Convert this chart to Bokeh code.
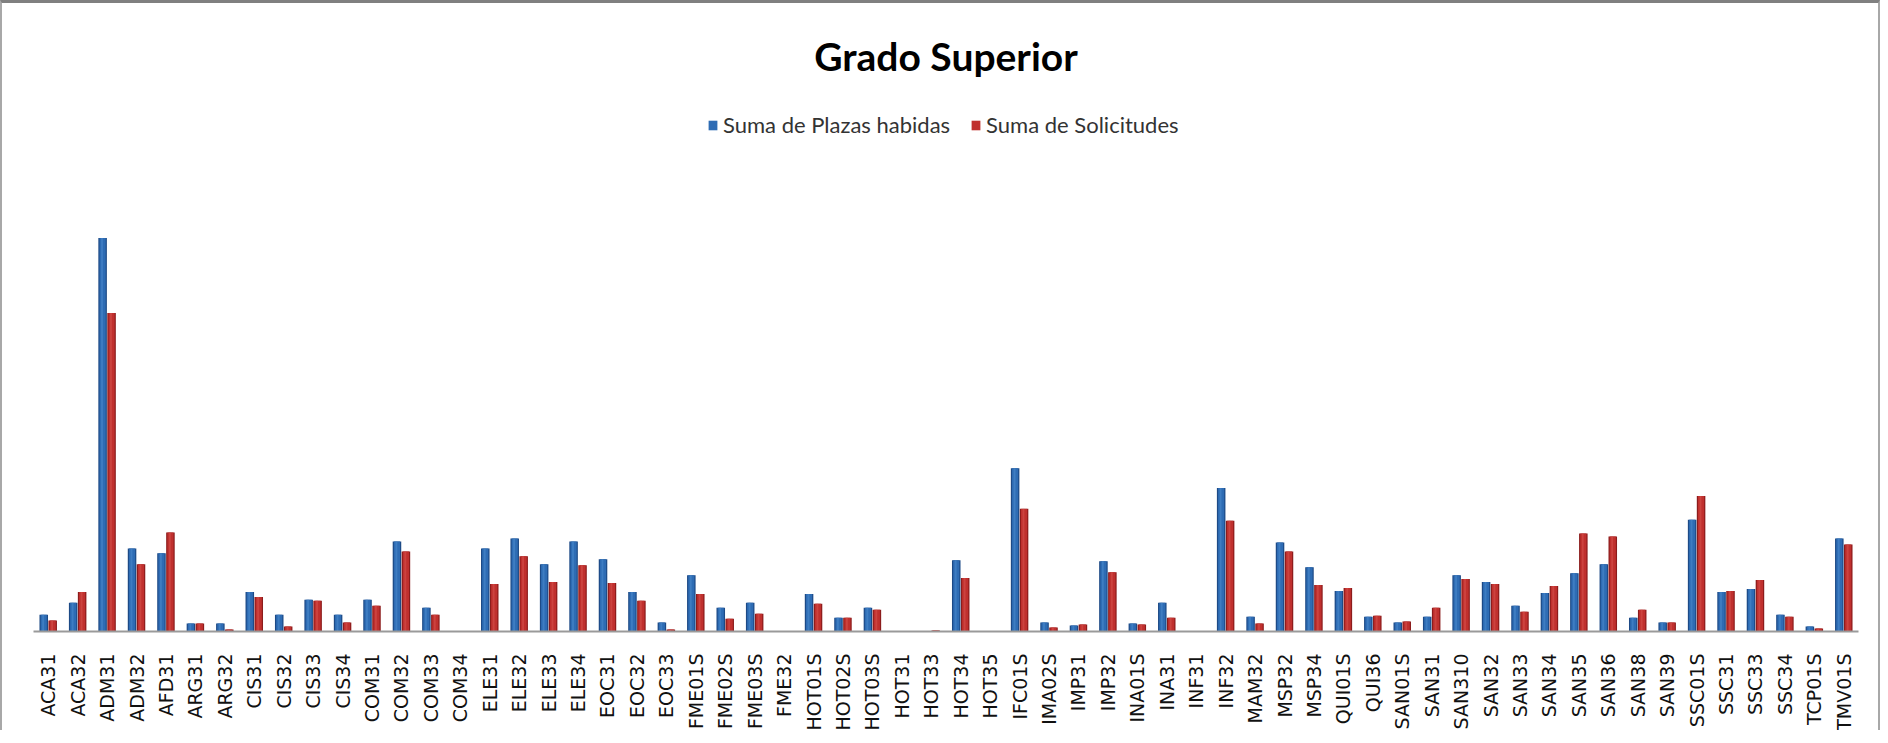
import math
from bokeh.plotting import figure
from bokeh.models import ColumnDataSource, Range1d, Label, Legend, LegendItem, FactorRange
from bokeh.transform import dodge
from bokeh.embed import file_html
from bokeh.resources import INLINE

categories = ["ACA31", "ACA32", "ADM31", "ADM32", "AFD31", "ARG31", "ARG32", "CIS31", "CIS32", "CIS33",
              "CIS34", "COM31", "COM32", "COM33", "COM34", "ELE31", "ELE32", "ELE33", "ELE34", "EOC31",
              "EOC32", "EOC33", "FME01S", "FME02S", "FME03S", "FME32", "HOT01S", "HOT02S", "HOT03S", "HOT31",
              "HOT33", "HOT34", "HOT35", "IFC01S", "IMA02S", "IMP31", "IMP32", "INA01S", "INA31", "INF31",
              "INF32", "MAM32", "MSP32", "MSP34", "QUI01S", "QUI36", "SAN01S", "SAN31", "SAN310", "SAN32",
              "SAN33", "SAN34", "SAN35", "SAN36", "SAN38", "SAN39", "SSC01S", "SSC31", "SSC33", "SSC34",
              "TCP01S", "TMV01S"]

plazas_habidas = [17, 29, 398, 84, 79, 8, 8, 40, 17, 32,
                  17, 32, 91, 24, 0, 84, 94, 68, 91, 73,
                  40, 9, 57, 24, 29, 0, 38, 14, 24, 0,
                  0, 72, 0, 165, 9, 6, 71, 8, 29, 0,
                  145, 15, 90, 65, 41, 15, 9, 15, 57, 50,
                  26, 39, 59, 68, 14, 9, 113, 40, 43, 17,
                  5, 94]

solicitudes = [11, 40, 322, 68, 100, 8, 2, 35, 5, 31,
               9, 26, 81, 17, 0, 48, 76, 50, 67, 49,
               31, 2, 38, 13, 18, 0, 28, 14, 22, 0,
               1, 54, 0, 124, 4, 7, 60, 7, 14, 0,
               112, 8, 81, 47, 44, 16, 10, 24, 53, 48,
               20, 46, 99, 96, 22, 9, 137, 41, 52, 15,
               3, 88]

series_names = ["Suma de Plazas habidas", "Suma de Solicitudes"]
title_text = "Grado Superior"

src = ColumnDataSource(dict(cat=categories, a=plazas_habidas, b=solicitudes))

W, H = 1880, 730
p = figure(x_range=FactorRange(*categories), y_range=Range1d(0, 633),
           width=W, height=H, output_backend="svg", toolbar_location=None,
           title=None, min_border_left=31, min_border_right=24,
           min_border_top=2, min_border_bottom=95,
           outline_line_color=None, background_fill_color="white",
           border_fill_color="white")
p.styles = {"border-top": "3px solid #808080", "border-left": "2px solid #a8a8a8",
            "border-right": "2px solid #a8a8a8"}
p.x_range.range_padding = 0

off = 0.152
bw = 0.29
blue_dark, blue_mid, blue_hi = "#1d4a86", "#2e6cb4", "#4a88cb"
red_dark, red_mid, red_hi = "#8c1c1c", "#c0302e", "#d4504b"

p.vbar(x=dodge("cat", -off, range=p.x_range), top="a", width=bw, source=src,
       fill_color=blue_dark, line_color=None)
rb = p.vbar(x=dodge("cat", -off, range=p.x_range), top="a", width=bw * 0.72, source=src,
            fill_color=blue_mid, line_color=None)
p.vbar(x=dodge("cat", -off - 0.02, range=p.x_range), top="a", width=bw * 0.22, source=src,
       fill_color=blue_hi, line_color=None, fill_alpha=0.6)

p.vbar(x=dodge("cat", off, range=p.x_range), top="b", width=bw, source=src,
       fill_color=red_dark, line_color=None)
rr = p.vbar(x=dodge("cat", off, range=p.x_range), top="b", width=bw * 0.72, source=src,
            fill_color=red_mid, line_color=None)
p.vbar(x=dodge("cat", off - 0.02, range=p.x_range), top="b", width=bw * 0.22, source=src,
       fill_color=red_hi, line_color=None, fill_alpha=0.6)

p.yaxis.visible = False
p.xgrid.grid_line_color = None
p.ygrid.grid_line_color = None
ax = p.xaxis[0]
ax.major_label_orientation = math.pi / 2
ax.major_tick_line_color = None
ax.minor_tick_line_color = None
ax.axis_line_color = "#9a9a9a"
ax.axis_line_width = 2
ax.major_label_standoff = 16
ax.major_label_text_font = "DejaVu Sans"
ax.major_label_text_font_size = "19px"
ax.major_label_text_color = "#111111"

title = Label(x=len(categories) / 2, y=582, text=title_text, text_align="center",
              text_baseline="middle", text_font="Lato", text_font_style="bold",
              text_font_size="39px", text_color="#000000")
p.add_layout(title)

legend = Legend(items=[LegendItem(label=series_names[0], renderers=[rb]),
                       LegendItem(label=series_names[1], renderers=[rr])],
                location=(674, 493), orientation="horizontal",
                background_fill_alpha=0, border_line_color=None, padding=0, margin=0,
                spacing=20, label_standoff=5, glyph_width=11, glyph_height=12,
                label_text_font="Lato", label_text_font_size="22px",
                label_text_color="#333333", label_height=22)
p.add_layout(legend)

open("out.html", "w").write(file_html(p, INLINE))
